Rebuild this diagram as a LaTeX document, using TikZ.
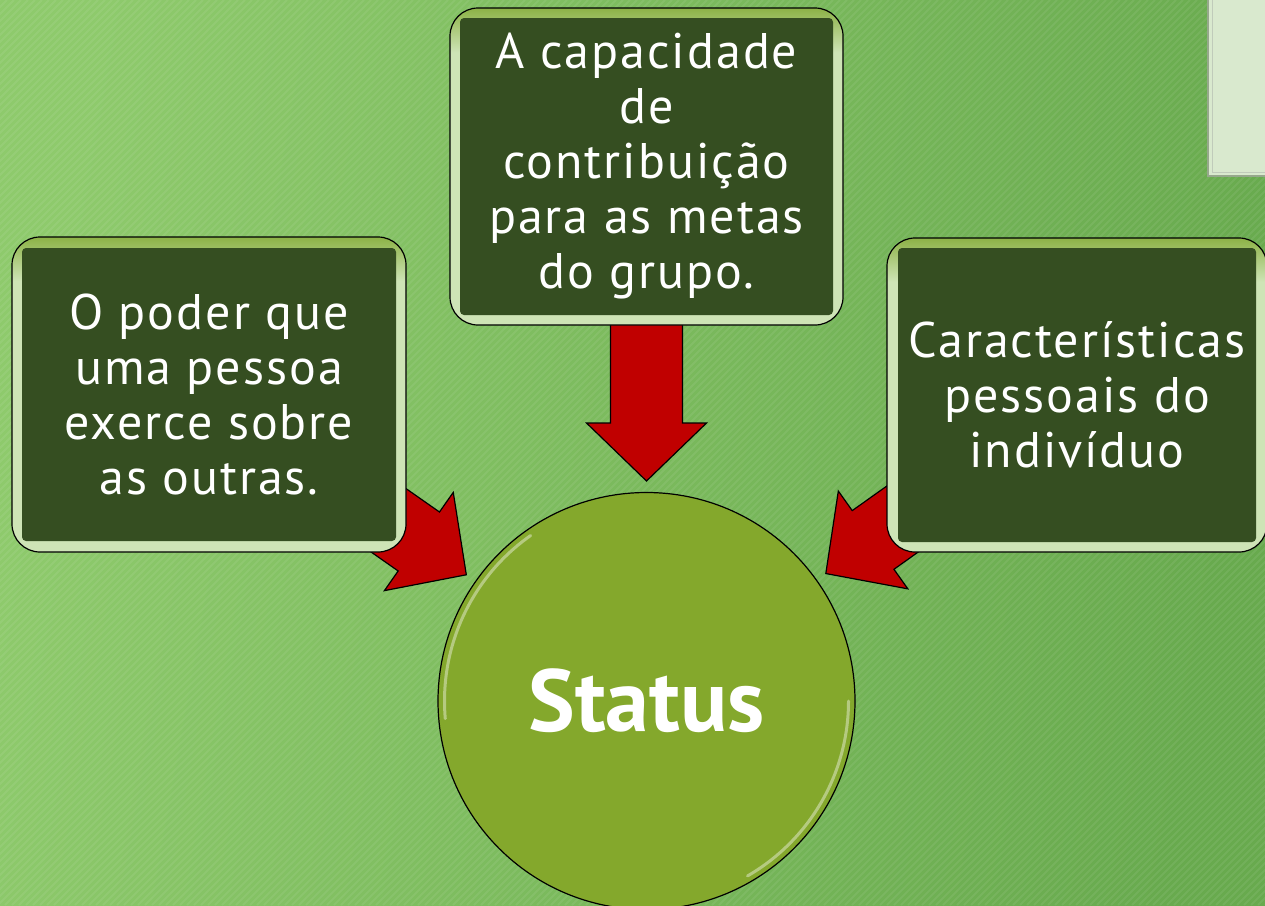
\documentclass[tikz,border=0pt]{standalone}
\usepackage{fontspec}
\setmainfont{PT Sans}
\newfontfamily\topicfont{PT Sans}[LetterSpace=4]
\usetikzlibrary{calc}

\pgfdeclarelayer{bg}
\pgfdeclarelayer{arrows}
\pgfsetlayers{bg,arrows,main}

\definecolor{bgLight}{RGB}{142,202,108}
\definecolor{bgDark}{RGB}{104,170,78}
\definecolor{rimTop}{RGB}{140,178,70}
\definecolor{rimPale}{RGB}{206,228,182}
\definecolor{boxDark}{RGB}{53,78,33}
\definecolor{arrowRed}{RGB}{192,0,0}
\definecolor{statusGreen}{RGB}{132,168,44}
\definecolor{panelPale}{RGB}{217,233,206}
\definecolor{panelEdge}{RGB}{150,168,140}

\pgfdeclareverticalshading{rimshade}{100bp}{color(0bp)=(rimPale); color(25bp)=(rimPale); color(68bp)=(rimPale); color(75bp)=(rimTop); color(100bp)=(rimTop)}

\tikzset{
  rim/.style={rectangle, rounded corners=28pt, draw=black, line width=1.2pt, shading=rimshade, inner sep=0pt},
  topic/.style={rectangle, rounded corners=4pt, fill=boxDark, text=white, align=center, inner sep=0pt, font=\topicfont\fontsize{50}{55}\selectfont},
  arrowbody/.style={fill=arrowRed, draw=black, line width=1.2pt, line join=miter},
  gloss/.style={white, opacity=0.4, line width=3pt, line cap=round},
  stripe/.style={white, opacity=0.07, line width=2pt},
}

% block arrow from box #1 to circle #2
\newcommand{\redarrow}[2]{%
  \coordinate (tip) at ($(#2.center)!220pt!(#1.center)$);
  \coordinate (neck) at ($(tip)!58pt!(#1.center)$);
  \draw[arrowbody] ($(#1.center)!36pt!90:(tip)$) -- ($(neck)!36pt!90:(tip)$)
    -- ($(neck)!60pt!90:(tip)$) -- (tip) -- ($(neck)!60pt!-90:(tip)$)
    -- ($(neck)!36pt!-90:(tip)$) -- ($(#1.center)!36pt!-90:(tip)$) -- cycle;
}

\begin{document}
\begin{tikzpicture}[x=1pt,y=1pt,yscale=-1,xscale=1]
\useasboundingbox (0,0) rectangle (1265,905);

%Background
\begin{pgfonlayer}{bg}
\shade[left color=bgLight, right color=bgDark, shading angle=80] (0,0) rectangle (1265,905);
\begin{scope}
\clip (0,0) rectangle (1265,905);
\foreach \k in {0,...,310}
  \draw[stripe] (-905+7*\k,905) -- ++(905,-905);
\end{scope}
%Shape: Panel
\draw[fill=panelPale, draw=panelEdge, line width=2pt] (1208,-5) rectangle (1275,176);
\draw[panelEdge!60, line width=1pt] (1212,-5) -- (1212,172) -- (1275,172);
\end{pgfonlayer}

%Shape: Rounded Rectangles
\node[rim, minimum width=394pt, minimum height=315pt] (lrim) at (209,394.5) {};
\node[topic, minimum width=374pt, minimum height=293pt] (lbox) at (lrim) {O poder que\\uma pessoa\\exerce sobre\\as outras.};

\node[rim, minimum width=393pt, minimum height=317pt] (trim) at (646.5,166.5) {};
\node[topic, minimum width=373pt, minimum height=297pt] (tbox) at (trim) {A capacidade\\de\\contribuição\\para as metas\\do grupo.};

\node[rim, minimum width=380pt, minimum height=314pt] (rrim) at (1077,395) {};
\node[topic, minimum width=358pt, minimum height=294pt] (rbox) at (rrim) {Características\\pessoais do\\indivíduo};

%Shape: Circle
\node[circle, minimum size=417pt, inner sep=0pt, fill=statusGreen, draw=black, line width=1.2pt, text=white, font=\bfseries\fontsize{88}{88}\selectfont] (status) at (646.5,701) {Status};
\draw[gloss] ($(status.center)+(-125:202)$) arc[start angle=-125, end angle=-185, radius=202];
\draw[gloss] ($(status.center)+(0:202)$) arc[start angle=0, end angle=60, radius=202];

%Block Arrows
\begin{pgfonlayer}{arrows}
\redarrow{lbox}{status}
\redarrow{tbox}{status}
\redarrow{rbox}{status}
\end{pgfonlayer}
\end{tikzpicture}
\end{document}
